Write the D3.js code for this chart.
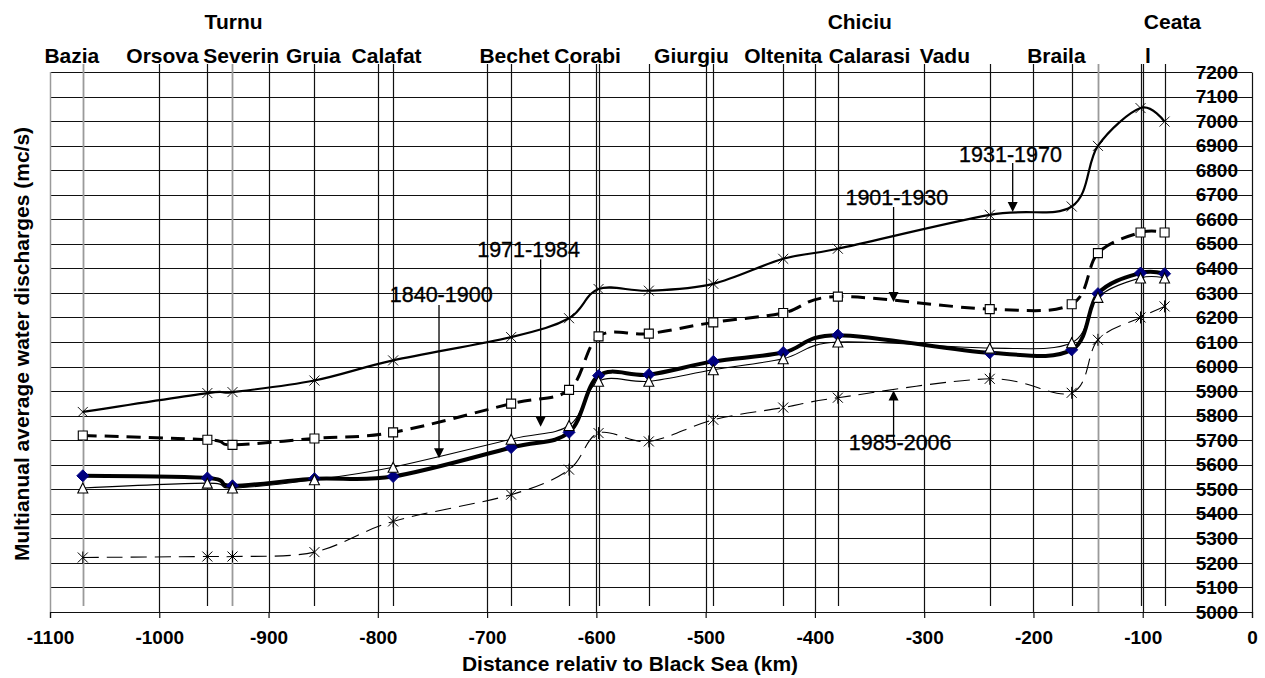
<!DOCTYPE html>
<html><head><meta charset="utf-8">
<script src="https://cdn.jsdelivr.net/npm/d3@7"></script>
<style>
body{margin:0;background:#fff}
svg{display:block}
text{font-family:"Liberation Sans",Arial,Helvetica,sans-serif;fill:#000}
</style>
</head><body>
<svg id="chart" width="1265" height="678"></svg>
<script>
// ---------------- DATA ----------------
// distance relative to the Black Sea (km) of each gauging station
const stationKm = [-1070, -956, -933, -858, -786, -678, -625, -598, -552, -493, -429, -379, -240, -165, -141, -102, -80];
// which station lines are drawn grey
const greyStation = [true, false, true, false, false, false, false, false, false, false, false, false, false, false, true, false, false];

const seriesNames = ["1931-1970", "1901-1930", "1840-1900", "1971-1984", "1985-2006"];
const q1931_1970 = [5815, 5892, 5896, 5943, 6025, 6120, 6197, 6316, 6309, 6337, 6439, 6480, 6618, 6652, 6899, 7053, 6998];
const q1901_1930 = [5719, 5702, 5681, 5707, 5732, 5849, 5905, 6123, 6134, 6180, 6218, 6285, 6234, 6254, 6462, 6546, 6546];
const q1840_1900 = [5555, 5546, 5514, 5543, 5552, 5670, 5732, 5963, 5967, 6021, 6057, 6128, 6056, 6068, 6297, 6381, 6378];
const q1971_1984 = [5505, 5525, 5505, 5539, 5590, 5704, 5760, 5940, 5940, 5987, 6032, 6100, 6075, 6097, 6282, 6361, 6361];
const q1985_2006 = [5222, 5226, 5226, 5244, 5369, 5478, 5580, 5729, 5695, 5783, 5833, 5873, 5950, 5893, 6109, 6200, 6245];

const xTickValues = d3.range(-1100, 1, 100);
const yTickValues = d3.range(5000, 7201, 100);

// top station labels: text and row (0 = upper, 1 = lower)
const stationLabels = ["Bazia", "Orsova", "Turnu", "Severin", "Gruia", "Calafat", "Bechet", "Corabi", "Giurgiu", "Oltenita", "Chiciu", "Calarasi", "Vadu", "Braila", "Ceata", "l"];
const stationLabelRow = [1, 1, 0, 1, 1, 1, 1, 1, 1, 1, 0, 1, 1, 1, 0, 1];
const stationLabelKm = [-1080, -997, -932, -925, -859, -792, -675, -608, -513, -429, -359, -350, -281, -179, -99, -98];
const stationLabelAnchor = ["middle","middle","middle","middle","middle","middle","middle","middle","middle","middle","middle","middle","middle","middle","start","start"];

// annotations (arrow in data units)
const annLabels = ["1931-1970", "1901-1930", "1840-1900", "1971-1984", "1985-2006"];
const annArrowKm = [-219, -328, -744, -651, -328];
const annTextKm = [-221, -325, -742, -662, -322];
const annTailQ = [6829, 6650, 6251, 6437, 5701];
const annTipQ = [6630, 6263, 5626, 5755, 5902];
const annTextQ = [6835, 6658, 6264, 6448, 5660];

const xTitle = "Distance relativ to Black Sea (km)";
const yTitle = "Multianual average water discharges (mc/s)";

// ---------------- LAYOUT ----------------
const svg = d3.select("#chart");
const x = d3.scaleLinear().domain([-1100, 0]).range([50, 1252]);
const y = d3.scaleLinear().domain([5000, 7200]).range([612, 72]);
const plotTop = y(7200), plotBottom = y(5000);
const lineTopY = 64;     // where vertical lines start above the plot
const stationBottomY = 606;

// horizontal gridlines
svg.append("g").selectAll("line").data(yTickValues).join("line")
  .attr("x1", x(-1100)).attr("x2", x(0))
  .attr("y1", d => Math.round(y(d)) + 0.5).attr("y2", d => Math.round(y(d)) + 0.5)
  .attr("stroke", "#111").attr("stroke-width", 1.2);

// vertical gridlines every 100 km
svg.append("g").selectAll("line").data(xTickValues.filter(d => d > -1100 && d < 0)).join("line")
  .attr("x1", d => Math.round(x(d)) + 0.5).attr("x2", d => Math.round(x(d)) + 0.5)
  .attr("y1", lineTopY).attr("y2", plotBottom)
  .attr("stroke", "#111").attr("stroke-width", 1.2);

// station lines
svg.append("g").selectAll("line").data(stationKm).join("line")
  .attr("x1", d => Math.round(x(d)) + 0.5).attr("x2", d => Math.round(x(d)) + 0.5)
  .attr("y1", lineTopY)
  .attr("y2", (d, i) => greyStation[i] && i > 2 ? plotBottom : stationBottomY)
  .attr("stroke", (d, i) => greyStation[i] ? "#9a9a9a" : "#111")
  .attr("stroke-width", (d, i) => greyStation[i] ? 1.8 : 1.2);

// left border (grey)
svg.append("line").attr("x1", x(-1100) + 0.5).attr("x2", x(-1100) + 0.5)
  .attr("y1", plotTop).attr("y2", plotBottom).attr("stroke", "#9a9a9a").attr("stroke-width", 1.5);

// x axis
const xAxis = d3.axisBottom(x).tickValues(xTickValues).tickSize(6).tickPadding(13).tickFormat(d3.format("d"));
const gx = svg.append("g").attr("transform", `translate(0,${plotBottom})`).call(xAxis);
gx.select(".domain").attr("stroke", "#111").attr("stroke-width", 1.2);
gx.selectAll(".tick line").attr("stroke", "#111").attr("stroke-width", 1.2);
gx.selectAll("text").attr("font-size", 19).attr("font-weight", "bold")
  .attr("font-family", "'Liberation Sans', Arial, sans-serif").attr("fill", "#000")
  .text(d => d === 0 ? "0" : String(d).replace("\u2212", "-"));

// y axis on the right, labels inside
const yAxis = d3.axisLeft(y).tickValues(yTickValues).tickSize(0).tickPadding(14).tickFormat(d3.format("d"));
const gy = svg.append("g").attr("transform", `translate(${x(0)},0)`).call(yAxis);
gy.select(".domain").attr("stroke", "#111").attr("stroke-width", 1.2);
gy.selectAll("text").attr("font-size", 19).attr("font-weight", "bold")
  .attr("font-family", "'Liberation Sans', Arial, sans-serif").attr("fill", "#000");

// ---------------- SERIES ----------------
const curve = d3.curveCatmullRom.alpha(0);
function pts(vals) { return stationKm.map((k, i) => [x(k), y(vals[i])]); }
const line = d3.line().curve(curve);

function drawLine(vals, width, dash) {
  svg.append("path").attr("d", line(pts(vals))).attr("fill", "none")
    .attr("stroke", "#000").attr("stroke-width", width)
    .attr("stroke-dasharray", dash || null).attr("stroke-linejoin", "round");
}
function markerPath(type, cx, cy) {
  const p = d3.path();
  if (type === "x") {
    const s = 5;
    p.moveTo(cx - s, cy - s); p.lineTo(cx + s, cy + s);
    p.moveTo(cx - s, cy + s); p.lineTo(cx + s, cy - s);
  } else if (type === "star") {
    const s = 5;
    p.moveTo(cx - s, cy - s); p.lineTo(cx + s, cy + s);
    p.moveTo(cx - s, cy + s); p.lineTo(cx + s, cy - s);
    p.moveTo(cx, cy - s - 1); p.lineTo(cx, cy + s + 1);
  } else if (type === "square") {
    const s = 4.5;
    p.rect(cx - s, cy - s, 2 * s, 2 * s);
  } else if (type === "diamond") {
    const s = 6;
    p.moveTo(cx, cy - s); p.lineTo(cx + s, cy); p.lineTo(cx, cy + s); p.lineTo(cx - s, cy); p.closePath();
  } else if (type === "triangle") {
    const s = 5;
    p.moveTo(cx, cy - s); p.lineTo(cx + s, cy + s); p.lineTo(cx - s, cy + s); p.closePath();
  }
  return p.toString();
}
function drawMarkers(vals, type, fill, stroke, sw) {
  svg.append("g").selectAll("path").data(pts(vals)).join("path")
    .attr("d", d => markerPath(type, d[0], d[1]))
    .attr("fill", fill).attr("stroke", stroke).attr("stroke-width", sw);
}

// 1931-1970
drawLine(q1931_1970, 2.2);
drawMarkers(q1931_1970, "x", "none", "#000", 0.9);
// 1901-1930
drawLine(q1901_1930, 3, "14,8");
drawMarkers(q1901_1930, "square", "#fff", "#000", 1.1);
// 1840-1900
drawLine(q1840_1900, 4);
drawMarkers(q1840_1900, "diamond", "#000080", "#000080", 1);
// 1971-1984
drawLine(q1971_1984, 1.1);
drawMarkers(q1971_1984, "triangle", "#fff", "#000", 1.1);
// 1985-2006
drawLine(q1985_2006, 1.1, "16,8");
drawMarkers(q1985_2006, "star", "none", "#000", 1);

// ---------------- ANNOTATIONS ----------------
annLabels.forEach((lab, i) => {
  const ax = x(annArrowKm[i]);
  const yTail = y(annTailQ[i]), yTip = y(annTipQ[i]);
  const dir = yTip > yTail ? 1 : -1;
  svg.append("line").attr("x1", ax).attr("x2", ax).attr("y1", yTail).attr("y2", yTip - dir * 8)
    .attr("stroke", "#000").attr("stroke-width", 1.3);
  svg.append("path")
    .attr("d", `M${ax},${yTip} L${ax - 5},${yTip - dir * 10} L${ax + 5},${yTip - dir * 10} Z`)
    .attr("fill", "#000");
  svg.append("text").attr("x", x(annTextKm[i])).attr("y", y(annTextQ[i]))
    .attr("text-anchor", "middle").attr("font-size", 21.5)
    .attr("stroke", "#000").attr("stroke-width", 0.35).text(lab);
});

// ---------------- STATION LABELS ----------------
const rowBaseline = [29, 63];
svg.append("g").selectAll("text").data(stationLabels).join("text")
  .attr("x", (d, i) => x(stationLabelKm[i]))
  .attr("y", (d, i) => rowBaseline[stationLabelRow[i]])
  .attr("text-anchor", (d, i) => stationLabelAnchor[i])
  .attr("font-size", 21).attr("font-weight", "bold")
  .text(d => d);

// ---------------- AXIS TITLES ----------------
svg.append("text").attr("x", 630).attr("y", 671).attr("text-anchor", "middle")
  .attr("font-size", 21).attr("font-weight", "bold").text(xTitle);
svg.append("text").attr("transform", "translate(29,344) rotate(-90)").attr("text-anchor", "middle")
  .attr("font-size", 21).attr("font-weight", "bold").text(yTitle);
</script>
</body></html>
